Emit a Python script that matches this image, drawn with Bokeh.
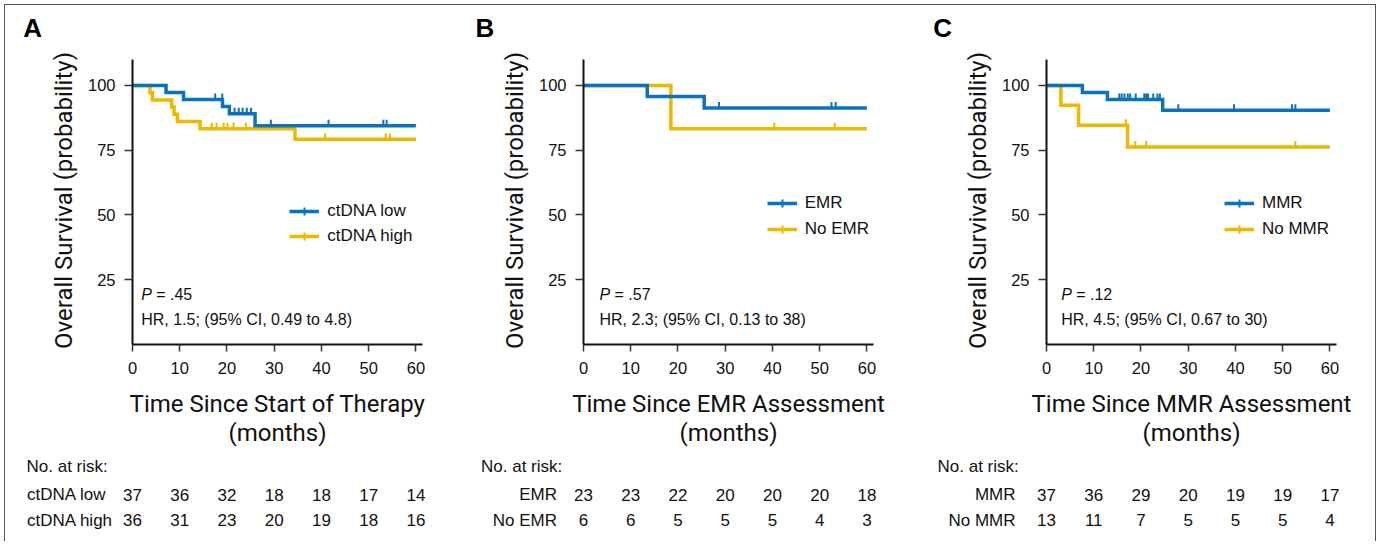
import math
import numpy as np
from bokeh.plotting import figure
from bokeh.layouts import row
from bokeh.models import (ColumnDataSource, Label, LabelSet, Legend, LegendItem,
                          FixedTicker, Range1d)
from bokeh.core.properties import value
from bokeh.embed import file_html
from bokeh.resources import INLINE

# ---------------- data ----------------
month_ticks = [0, 10, 20, 30, 40, 50, 60]
surv_ticks = [25, 50, 75, 100]

# Panel A: ctDNA
a_low_times = [0, 7.1, 10.8, 19.05, 20.5, 25.95]
a_low_surv = [100, 97.3, 94.6, 91.9, 89.1, 84.4]
a_low_cens = [17.5, 19.0, 21.6, 22.5, 23.3, 24.2, 25.1, 29.3, 41.5, 53.1, 53.8]
a_high_times = [0, 3.7, 4.2, 8.3, 8.8, 9.5, 14.3, 34.4]
a_high_surv = [100, 97.2, 94.4, 91.7, 88.9, 86.1, 83.3, 79.2]
a_high_cens = [16.8, 17.8, 19.3, 20.1, 21.4, 24.0, 40.8, 53.6, 54.5]
a_risk_low = [37, 36, 32, 18, 18, 17, 14]
a_risk_high = [36, 31, 23, 20, 19, 18, 16]

# Panel B: EMR
b_emr_times = [0, 13.5, 25.55]
b_emr_surv = [100, 95.7, 91.3]
b_emr_cens = [28.7, 52.5, 53.4]
b_no_times = [0, 18.5]
b_no_surv = [100, 83.3]
b_no_cens = [40.4, 53.2]
b_risk_emr = [23, 23, 22, 20, 20, 20, 18]
b_risk_no = [6, 6, 5, 5, 5, 4, 3]

# Panel C: MMR
c_mmr_times = [0, 7.6, 12.9, 24.6]
c_mmr_surv = [100, 97.3, 94.6, 90.4]
c_mmr_cens = [15.4, 15.9, 16.5, 17.2, 17.7, 18.9, 20.7, 21.1, 21.5, 22.6,
              23.5, 24.0, 27.9, 39.7, 52.0, 52.7]
c_no_times = [0, 3.05, 6.8, 17.15]
c_no_surv = [100, 92.3, 84.6, 76.2]
c_no_cens = [16.8, 18.8, 21.1, 52.7]
c_risk_mmr = [37, 36, 29, 20, 19, 19, 17]
c_risk_no = [13, 11, 7, 5, 5, 5, 4]

# ---------------- style / layout ----------------
BLUE = "#0b73bb"
GOLD = "#ecb800"
FONT = "Liberation Sans"
TITLE_FONT = "Roboto"
TITLE_SIZE = "24px"
H = 536
PAGE_Y0 = 5            # page y of the figures' top edge
AXIS_Y = 344           # page y of the x axis (survival 0)
FRAME_W, FRAME_H = 290, 285
XMAX, YMAX, TEND = 61.4, 110, 60
TICK_PX = 6


def make_panel(letter, ox, W, L, groups, xtitle, pval, hr,
               ann_x, letter_x, legend_pos, legend_spacing,
               noar_x, rlab_x, rlab_align):
    kx = FRAME_W / XMAX
    ky = FRAME_H / YMAX

    def dx(px):
        return (px - L) / kx

    def dy(py):
        return (AXIS_Y - py) / ky

    p = figure(width=W, height=H, output_backend="svg", toolbar_location=None,
               x_range=Range1d(dx(ox), dx(ox + W)),
               y_range=Range1d(dy(PAGE_Y0 + H), dy(PAGE_Y0)),
               min_border=0)
    p.outline_line_color = None
    p.grid.visible = False
    p.background_fill_color = "white"
    p.border_fill_color = "white"

    for ax in (p.xaxis[0], p.yaxis[0]):
        ax.fixed_location = 0
        ax.axis_line_width = 2
        ax.axis_line_color = "#111111"
        ax.major_tick_line_width = 1.5
        ax.major_tick_line_color = "#333333"
        ax.minor_tick_line_color = None
        ax.major_tick_in = 0
        ax.major_label_text_font = FONT
        ax.major_label_text_font_size = "16.5px"
        ax.major_label_text_color = "#111111"
    p.xaxis.bounds = (0, XMAX)
    p.yaxis.bounds = (0, YMAX)
    p.xaxis.ticker = FixedTicker(ticks=month_ticks)
    p.yaxis.ticker = FixedTicker(ticks=surv_ticks)
    p.xaxis.major_tick_out = 7
    p.yaxis.major_tick_out = 8
    p.xaxis.major_label_standoff = 10
    p.yaxis.major_label_standoff = 9

    rends = {}
    # draw yellow first so blue sits on top
    for g in reversed(groups):
        name, color, times, surv, cens, risk = g
        xs = list(times) + [TEND]
        ys = list(surv) + [surv[-1]]
        r = p.step(xs, ys, mode="after", line_color=color, line_width=3.5,
                   line_join="miter")
        idx = np.searchsorted(np.array(times), np.array(cens), side="right") - 1
        cy = np.array(surv)[idx]
        p.scatter(x=cens, y=cy + (TICK_PX / 2) / ky, marker="dash",
                  angle=math.pi / 2, size=TICK_PX, line_color=color,
                  line_width=2)
        # legend-only version of the censor tick (hidden on the plot)
        lg = p.scatter(x=cens, y=cy, marker="cross", size=TICK_PX * 2,
                       line_color=color, line_width=2, visible=False)
        rends[name] = (r, lg)
    items = [LegendItem(label=g[0], renderers=list(rends[g[0]])) for g in groups]

    gx, gbottom = legend_pos
    legend = Legend(items=items, location=(gx - ox, PAGE_Y0 + H - gbottom),
                    orientation="vertical",
                    glyph_width=30, glyph_height=20, label_height=20,
                    spacing=legend_spacing, padding=0, margin=0,
                    label_standoff=8, border_line_color=None,
                    background_fill_alpha=0, label_text_font=FONT,
                    label_text_font_size="17px", label_text_color="#111111")
    p.add_layout(legend)

    def lab(x, y, text, **kw):
        opts = dict(text_font=FONT, text_font_size="17px", text_color="#111111",
                    text_baseline="middle", text_align="left")
        opts.update(kw)
        p.add_layout(Label(x=x, y=y, text=text, **opts))

    # panel letter
    lab(dx(letter_x), dy(27.5), letter, text_font_style="bold",
        text_font_size="26px", text_color="black")
    # y title
    lab(dx(L - 69), dy(200), "Overall Survival (probability)", angle=math.pi / 2,
        text_align="center", text_font=TITLE_FONT, text_font_size=TITLE_SIZE)
    # x title (two lines)
    xc = XMAX / 2
    lab(xc, dy(403), xtitle, text_align="center",
        text_font=TITLE_FONT, text_font_size=TITLE_SIZE)
    lab(xc, dy(432.5), "(months)", text_align="center",
        text_font=TITLE_FONT, text_font_size=TITLE_SIZE)
    # statistics
    lab(dx(ann_x), dy(294), "P", text_font_style="italic", text_font_size="16px")
    lab(dx(ann_x + 15), dy(294), "= " + pval, text_font_size="16px")
    lab(dx(ann_x), dy(318.5), hr, text_font_size="16px")
    # risk table
    lab(dx(noar_x), dy(466), "No. at risk:")
    for g, ypg in zip(groups, (494, 519.5)):
        lab(dx(rlab_x), dy(ypg), g[0], text_align=rlab_align)
        src = ColumnDataSource(dict(x=month_ticks, y=[dy(ypg)] * len(month_ticks),
                                    t=[str(v) for v in g[5]]))
        p.add_layout(LabelSet(x="x", y="y", text="t", source=src,
                              text_font=value(FONT), text_font_size="17px",
                              text_color="#111111", text_align="center",
                              text_baseline="middle"))
    return p


pA = make_panel("A", 5, 459, 132,
                [("ctDNA low", BLUE, a_low_times, a_low_surv, a_low_cens, a_risk_low),
                 ("ctDNA high", GOLD, a_high_times, a_high_surv, a_high_cens, a_risk_high)],
                "Time Since Start of Therapy", ".45", "HR, 1.5; (95% CI, 0.49 to 4.8)",
                140.7, 22.7, (289.3, 245.7), 5, 26, 26.5, "left")
pB = make_panel("B", 464, 455, 583,
                [("EMR", BLUE, b_emr_times, b_emr_surv, b_emr_cens, b_risk_emr),
                 ("No EMR", GOLD, b_no_times, b_no_surv, b_no_cens, b_risk_no)],
                "Time Since EMR Assessment", ".57", "HR, 2.3; (95% CI, 0.13 to 38)",
                599, 475, (766.7, 238.7), 6, 480.5, 556.5, "right")
pC = make_panel("C", 919, 456, 1046,
                [("MMR", BLUE, c_mmr_times, c_mmr_surv, c_mmr_cens, c_risk_mmr),
                 ("No MMR", GOLD, c_no_times, c_no_surv, c_no_cens, c_risk_no)],
                "Time Since MMR Assessment", ".12", "HR, 4.5; (95% CI, 0.67 to 30)",
                1060.7, 932.7, (1224, 238.7), 6, 937, 1015, "right")

layout = row(pA, pB, pC, styles={"margin-left": "4px", "margin-top": "4px",
                                 "border-top": "1px solid #555",
                                 "border-left": "1px solid #555",
                                 "border-right": "1px solid #555"})

open("out.html", "w").write(file_html(layout, INLINE))
